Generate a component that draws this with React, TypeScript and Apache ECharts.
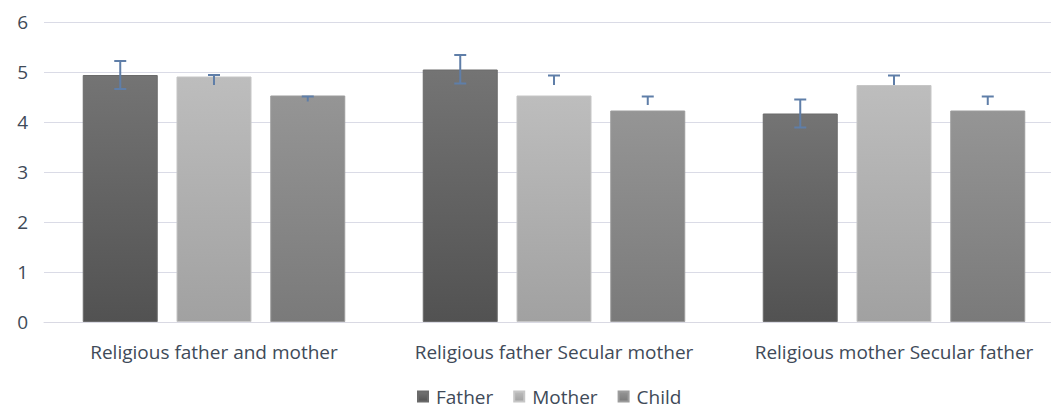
import React, { useEffect, useRef } from "react";
import * as echarts from "echarts";

const categories = [
  "Religious father and mother",
  "Religious father Secular mother",
  "Religious mother Secular father",
];
const seriesNames = ["Father", "Mother", "Child"];
const fatherValues = [4.94, 5.05, 4.17];
const motherValues = [4.91, 4.53, 4.74];
const childValues = [4.53, 4.23, 4.23];
const fatherErrHigh = [5.22, 5.34, 4.45];
const fatherErrLow = [4.66, 4.77, 3.89];
const motherErrHigh = [4.94, 4.93, 4.93];
const motherErrLow = [4.74, 4.74, 4.74];
const childErrHigh = [4.51, 4.51, 4.51];
const childErrLow = [4.41, 4.34, 4.34];
const yTicks = [0, 1, 2, 3, 4, 5, 6];

const FONT = "'Open Sans', sans-serif";
const TEXT = "#404a58";
const ERR = "#5f7ea8";
const BAR_W = 0.2206;
const GAP = 0.25;

function grad(top: string, bottom: string) {
  return new echarts.graphic.LinearGradient(0, 0, 0, 1, [
    { offset: 0, color: top },
    { offset: 1, color: bottom },
  ]);
}

function errSeries(idx: number, high: number[], low: number[], lowerCap: boolean) {
  return {
    type: "custom",
    name: "err" + idx,
    z: 10,
    data: high.map((h, i) => [i, h, low[i]]),
    renderItem: (params: any, api: any) => {
      const c = api.value(0);
      const hi = api.coord([c, api.value(1)]);
      const lo = api.coord([c, api.value(2)]);
      const band = api.size([1, 0])[0];
      const bw = band * BAR_W;
      const x = hi[0] + (idx - 1) * bw * (1 + GAP);
      const cap = 6;
      const style = { stroke: ERR, lineWidth: 2 };
      const children: any[] = [
        { type: "line", shape: { x1: x, y1: hi[1], x2: x, y2: lo[1] }, style },
        { type: "line", shape: { x1: x - cap, y1: hi[1], x2: x + cap, y2: hi[1] }, style },
      ];
      if (lowerCap) {
        children.push({ type: "line", shape: { x1: x - cap, y1: lo[1], x2: x + cap, y2: lo[1] }, style });
      }
      return { type: "group", children };
    },
  };
}

export default function App() {
  const ref = useRef<HTMLDivElement>(null);
  useEffect(() => {
    const chart = echarts.init(ref.current!, null, { renderer: "svg" });
    chart.setOption({
      animation: false,
      backgroundColor: "#ffffff",
      grid: { left: 44, right: 6, top: 22, bottom: 86 },
      legend: {
        data: seriesNames,
        top: 387,
        padding: 0,
        left: 417,
        itemWidth: 10,
        itemHeight: 10,
        itemGap: 20,
        icon: "rect",
        textStyle: { fontFamily: FONT, fontSize: 19, color: TEXT, padding: [0, 0, 0, 3] },
      },
      xAxis: {
        type: "category",
        data: categories,
        axisLine: { show: true, lineStyle: { color: "#d9d9e3", width: 1 } },
        axisTick: { show: false },
        axisLabel: { fontFamily: FONT, fontSize: 19, color: TEXT, margin: 20, interval: 0 },
      },
      yAxis: {
        type: "value",
        min: 0,
        max: 6,
        interval: 1,
        axisLine: { show: false },
        axisTick: { show: false },
        splitLine: { lineStyle: { color: "#dadbe6", width: 1 } },
        axisLabel: {
          fontFamily: FONT,
          fontSize: 19,
          color: TEXT,
          margin: 16,
          formatter: (v: number) => (yTicks.includes(v) ? String(v) : ""),
        },
      },
      series: [
        {
          type: "bar",
          name: "Father",
          data: fatherValues,
          barWidth: BAR_W * 100 + "%",
          barGap: GAP * 100 + "%",
          itemStyle: { color: grad("#747474", "#525252"), borderColor: "#6a6a6a", borderWidth: 1 },
        },
        {
          type: "bar",
          name: "Mother",
          data: motherValues,
          barWidth: BAR_W * 100 + "%",
          barGap: GAP * 100 + "%",
          itemStyle: { color: grad("#bdbdbd", "#a1a1a1"), borderColor: "#c6c6c6", borderWidth: 1 },
        },
        {
          type: "bar",
          name: "Child",
          data: childValues,
          barWidth: BAR_W * 100 + "%",
          barGap: GAP * 100 + "%",
          itemStyle: { color: grad("#959595", "#7a7a7a"), borderColor: "#9c9c9c", borderWidth: 1 },
        },
        errSeries(0, fatherErrHigh, fatherErrLow, true),
        errSeries(1, motherErrHigh, motherErrLow, false),
        errSeries(2, childErrHigh, childErrLow, false),
      ],
    });
    return () => chart.dispose();
  }, []);
  return (
    <div style={{ width: 1051, height: 408, position: "absolute", left: 0, top: 0, overflow: "hidden" }}>
      <div ref={ref} style={{ width: 1070, height: 408 }} />
    </div>
  );
}
